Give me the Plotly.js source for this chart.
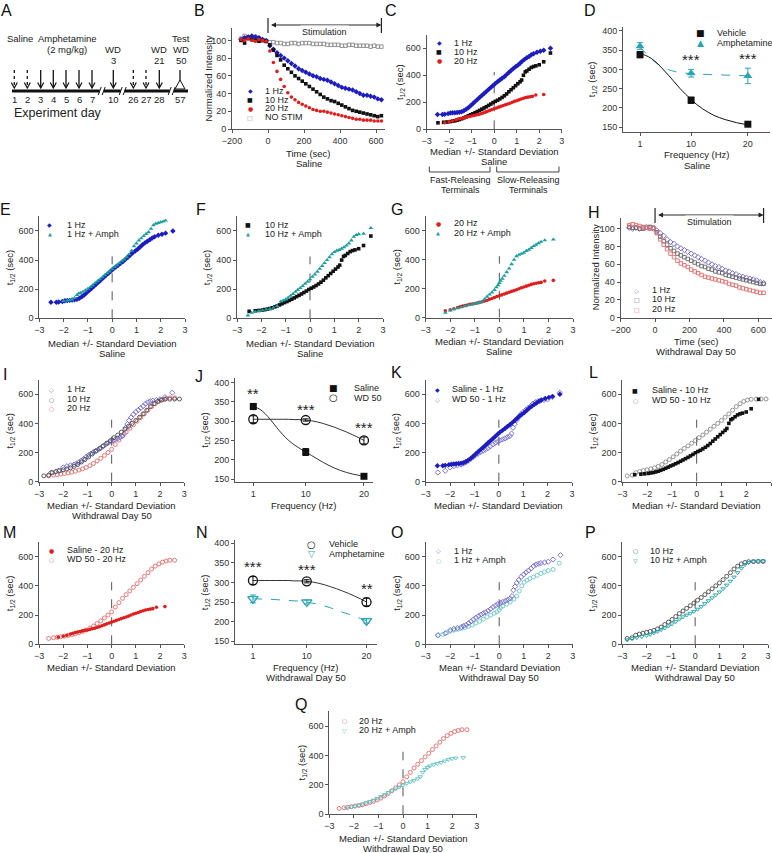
<!DOCTYPE html>
<html><head><meta charset="utf-8">
<script src="https://cdn.plot.ly/plotly-3.0.1.min.js"></script>
<style>html,body{margin:0;padding:0;background:#fff}#chart{width:772px;height:853px}</style>
</head><body><div id="chart"></div>
<script>
// ================= DATA =================
// Panel A schedule
const scheduleDays = ['1','2','3','4','5','6','7','10','26','27','28','57'];
const scheduleTreatment = ['saline','saline','amph','amph','amph','amph','amph','wd','saline','saline','wd','test'];

// Panels B & H: time course (sec) and normalized intensity
const timeSec = [-150,-130,-110,-90,-70,-50,-30,-10,10,30,50,70,90,110,130,150,170,190,210,230,250,270,290,310,330,350,370,390,410,430,450,470,490,510,530,550,570,590,610,630];
const B_1Hz = [101,103,104,105,104,103,101,100,94,90,86,83,80,77,74,71,68,66,64,62,60,59,57,56,55,53,51,49,47,46,45,44,42,40,38,38,37,36,34,33];
const B_10Hz = [100,97,102,101,100,99,100,99,95,89,83,78,72,68,64,60,57,54,51,48,45,42,39,36,34,32,31,29,27,25,23,21,20,19,18,17,16,15,14,15];
const B_20Hz = [101,100,102,100,99,101,100,99,88,75,65,56,48,41,36,33,30,28,26,24,22,21,20,20,19,18,17,16,15,14,13,12,11,11,10,10,10,9,9,9];
const B_noStim = [102,105,103,104,104,102,100,99,98,98,97,97,96,96,97,97,96,97,97,97,96,96,96,96,95,95,95,95,94,94,95,95,94,94,94,94,93,94,93,93];
const H_1Hz = [101,100,101,100,101,102,101,100,98,95,92,88,85,83,80,78,76,74,72,70,68,66,64,62,60,58,57,55,53,52,50,49,47,46,45,44,43,42,40,39];
const H_10Hz = [102,101,101,100,100,101,102,101,96,91,86,82,78,75,72,70,68,66,64,62,60,58,57,55,54,52,51,50,48,47,46,45,44,43,42,41,40,39,38,38];
const H_20Hz = [104,105,104,103,102,101,100,101,95,88,82,77,72,68,64,61,59,57,54,52,50,48,46,45,44,43,42,41,40,38,37,36,34,33,32,31,30,29,28,28];
const stimulationEnd = 630;

// Cumulative t1/2 distributions: x = median +/- SD, y = t1/2 (sec)
const sal1Hz_x = [-2.52,-2.3,-2.2,-2.05,-1.95,-1.85,-1.75,-1.65,-1.55,-1.45,-1.35,-1.25,-1.15,-1.05,-0.95,-0.85,-0.75,-0.65,-0.55,-0.45,-0.35,-0.25,-0.15,-0.05,0.05,0.15,0.25,0.35,0.45,0.55,0.65,0.75,0.85,0.95,1.05,1.15,1.25,1.35,1.45,1.55,1.65,1.75,1.9,2.05,2.2,2.5];
const sal1Hz_y = [110,110,112,116,120,122,123,125,127,130,138,148,160,175,190,205,220,235,250,265,280,295,310,325,340,352,365,378,390,405,420,435,450,463,475,490,505,518,530,540,552,560,570,578,585,600];
const sal10Hz_x = [-2.5,-2.25,-2.1,-1.95,-1.85,-1.75,-1.65,-1.55,-1.45,-1.35,-1.25,-1.15,-1.05,-0.95,-0.85,-0.75,-0.65,-0.55,-0.45,-0.35,-0.25,-0.15,-0.05,0.05,0.15,0.25,0.35,0.45,0.55,0.65,0.75,0.85,0.95,1.05,1.15,1.22,1.3,1.38,1.45,1.55,1.65,1.75,1.85,2.0,2.2,2.5];
const sal10Hz_y = [48,52,54,57,60,63,67,72,78,85,92,100,108,115,123,131,140,149,158,167,177,187,198,207,215,225,236,248,262,278,293,308,323,338,352,365,400,425,432,445,458,465,470,478,500,565];
const sal20Hz_x = [-2.2,-2.0,-1.85,-1.7,-1.6,-1.5,-1.4,-1.3,-1.2,-1.1,-1.0,-0.9,-0.8,-0.7,-0.6,-0.5,-0.4,-0.3,-0.2,-0.1,0,0.1,0.2,0.3,0.4,0.5,0.6,0.7,0.8,0.9,1.0,1.1,1.2,1.3,1.4,1.5,1.6,1.7,1.85,2.2];
const sal20Hz_y = [48,55,62,70,76,80,84,88,92,95,98,102,106,110,115,120,127,133,140,146,152,158,164,170,176,182,187,193,200,207,212,218,224,230,235,238,241,244,254,258];
const salAmph1Hz_x = [-2.0,-1.85,-1.75,-1.65,-1.55,-1.45,-1.38,-1.3,-1.2,-1.1,-1.0,-0.9,-0.8,-0.7,-0.6,-0.5,-0.4,-0.3,-0.2,-0.1,0,0.1,0.2,0.3,0.4,0.5,0.6,0.7,0.8,0.9,1.0,1.1,1.2,1.3,1.4,1.5,1.6,1.7,1.8,1.9,2.0,2.1,2.2];
const salAmph1Hz_y = [120,122,124,128,140,160,170,175,182,192,203,215,228,242,255,268,282,296,310,322,338,352,365,378,392,405,420,440,465,495,515,535,550,565,580,592,615,640,650,655,660,665,672];
const salAmph10Hz_x = [-2.55,-2.4,-2.25,-2.1,-1.95,-1.8,-1.65,-1.5,-1.35,-1.2,-1.1,-1.0,-0.9,-0.8,-0.7,-0.6,-0.5,-0.4,-0.3,-0.2,-0.1,0,0.1,0.2,0.3,0.4,0.5,0.6,0.7,0.8,0.9,1.0,1.1,1.2,1.3,1.4,1.5,1.6,1.7,1.8,1.9,2.0,2.2,2.5];
const salAmph10Hz_y = [20,38,45,50,55,60,65,72,85,115,122,130,142,155,168,182,195,208,222,238,252,268,285,302,320,340,360,380,400,420,440,455,465,470,478,488,500,515,535,560,572,578,582,620];
const salAmph20Hz_x = [-2.2,-2.0,-1.85,-1.7,-1.55,-1.4,-1.25,-1.1,-1.0,-0.9,-0.8,-0.7,-0.6,-0.5,-0.4,-0.3,-0.2,-0.12,-0.05,0,0.05,0.12,0.2,0.3,0.4,0.5,0.6,0.7,0.8,0.9,1.0,1.1,1.2,1.3,1.4,1.5,1.6,1.7,1.85,2.2];
const salAmph20Hz_y = [35,50,58,65,72,80,88,93,97,100,103,112,128,145,160,175,192,210,225,240,255,270,290,315,340,370,400,425,435,442,450,462,470,482,495,505,515,525,535,540];
const wd1Hz_x = [-2.5,-2.2,-2.0,-1.85,-1.7,-1.55,-1.45,-1.35,-1.25,-1.15,-1.05,-0.95,-0.85,-0.75,-0.65,-0.55,-0.45,-0.35,-0.25,-0.15,-0.05,0.05,0.15,0.25,0.35,0.45,0.52,0.58,0.65,0.72,0.8,0.9,1.0,1.1,1.2,1.3,1.4,1.5,1.6,1.7,1.85,2.0,2.2,2.5];
const wd1Hz_y = [63,75,98,106,112,118,125,133,145,157,170,182,193,203,212,220,230,242,255,265,275,282,290,297,305,313,330,370,395,420,440,462,478,492,505,518,535,545,552,556,560,565,580,610];
const wd10Hz_x = [-2.8,-2.6,-2.45,-2.3,-2.15,-2.0,-1.85,-1.7,-1.55,-1.4,-1.25,-1.1,-0.95,-0.8,-0.65,-0.5,-0.35,-0.2,-0.05,0.1,0.25,0.4,0.55,0.7,0.85,1.0,1.15,1.3,1.45,1.6,1.75,1.9,2.05,2.2,2.4,2.6,2.8];
const wd10Hz_y = [40,45,62,70,76,82,88,95,105,118,135,152,170,190,210,228,246,264,282,302,320,340,360,380,400,420,442,465,490,515,535,550,560,565,566,567,567];
const wd20Hz_x = [-2.6,-2.4,-2.25,-2.1,-1.95,-1.8,-1.65,-1.5,-1.35,-1.2,-1.05,-0.9,-0.75,-0.6,-0.45,-0.3,-0.15,0,0.15,0.3,0.45,0.6,0.75,0.9,1.05,1.2,1.35,1.5,1.65,1.8,1.95,2.1,2.25,2.4,2.6];
const wd20Hz_y = [40,45,48,52,56,60,65,72,80,88,98,110,125,142,160,180,200,222,255,285,315,340,365,390,415,440,465,490,515,535,550,562,570,575,575];
const wdAmph1Hz_x = [-2.5,-2.3,-2.15,-2.0,-1.85,-1.7,-1.55,-1.4,-1.25,-1.1,-0.95,-0.8,-0.65,-0.5,-0.35,-0.2,-0.1,0,0.05,0.15,0.3,0.45,0.6,0.72,0.82,0.92,1.02,1.13,1.25,1.4,1.55,1.7,1.85,2.0,2.2,2.45];
const wdAmph1Hz_y = [60,68,78,90,97,102,108,114,122,132,145,158,172,188,200,212,222,234,250,262,275,290,310,330,365,400,425,438,450,460,472,485,495,505,512,555];
const wdAmph10Hz_x = [-2.8,-2.6,-2.4,-2.2,-2.0,-1.85,-1.7,-1.55,-1.4,-1.25,-1.1,-0.95,-0.8,-0.65,-0.5,-0.35,-0.2,-0.05,0.1,0.25,0.4,0.55,0.7,0.85,1.0,1.15,1.3,1.45,1.6,1.75,1.9,2.05,2.2,2.4,2.6,2.8];
const wdAmph10Hz_y = [30,38,45,52,60,68,78,88,100,112,125,140,155,172,188,200,212,225,240,258,278,298,318,338,358,380,405,432,460,490,520,545,560,568,570,570];
const wdAmph20Hz_x = [-2.3,-2.1,-1.95,-1.8,-1.65,-1.5,-1.35,-1.2,-1.05,-0.9,-0.75,-0.6,-0.45,-0.3,-0.15,0,0.15,0.3,0.45,0.6,0.7,0.8,0.9,1.0,1.1,1.25,1.4,1.55,1.7,1.85,2.0,2.15,2.45];
const wdAmph20Hz_y = [42,50,55,62,70,78,86,96,108,120,133,147,160,172,185,198,210,220,230,242,255,285,305,318,328,338,345,352,362,372,378,382,385];
const medianLineTop = 425;

// Panels D, J, N: mean t1/2 by frequency
const freqHz = [1,10,20];
const D_vehicle = [338,220,158], D_vehicleErr = [8,8,4];
const D_amph = [360,290,283], D_amphErr = [9,10,20];
const D_stars = ['','***','***'];
const J_saline = [338,220,157], J_salineErr = [8,9,4];
const J_wd50 = [305,303,250], J_wd50Err = [9,3,9];
const J_stars = ['**','***','***'];
const N_vehicle = [305,303,250], N_vehicleErr = [10,4,10];
const N_amph = [258,250,202], N_amphErr = [10,5,6];
const N_stars = ['***','***','**'];
// fitted curves
const fitFreq = [1,2,3,4,5,6,7,8,9,10,11,12,13,14,15,16,17,18,19,20];
const D_vehicleFit = [340,336,328,316,301,285,268,251,236,222,209,198,189,181,175,170,166,162,159,157];
const D_amphFit = [358,342,327,315,306,299,295,292,290,289,288,287,287,286,286,285,285,284,284,284];
const J_salineFit = [338,332,320,303,284,266,251,239,229,220,211,202,193,185,178,172,167,163,160,157];
const J_wd50Fit = [305,305,305,305,305,305,305,304,304,303,301,298,294,289,284,278,272,265,258,250];
const N_amphFit = [258,258,257,257,256,255,254,253,252,250,247,244,240,235,230,224,219,213,208,202];

// ================= DRAWING =================
const W = 772, H = 853;
const FONT = '"Liberation Sans", Arial, sans-serif';
const AX = '#555';
const fx = p => p / W, fy = p => 1 - p / H;
const C = {blue:'#1c1cc0', black:'#111111', red:'#e11d1d', gray:'#8a8a8a', teal:'#1b9e9e',
  wd1:'#6f66cc', wd10:'#4a4a4a', wd20:'#e56b6b', wdA1:'#6cc7c7', wdA10:'#1aa0a8', wdA20:'#5cc2c2', ampD:'#2aa3b2'};

const traces = [];
const L = {width:W, height:H, margin:{l:0,r:0,t:0,b:0,pad:0}, paper_bgcolor:'#fff', plot_bgcolor:'rgba(0,0,0,0)',
  showlegend:false, font:{family:FONT,size:9,color:'#222'}, annotations:[], shapes:[]};

let nAx = 0;
function makePanel(b, xr, yr, xticks, yticks) {
  nAx++;
  const s = nAx === 1 ? '' : String(nAx);
  const common = {showline:true, linecolor:AX, linewidth:1, ticks:'outside', ticklen:3, tickwidth:1, tickcolor:AX,
    showgrid:false, zeroline:false, fixedrange:true, tickfont:{family:FONT,size:9,color:'#333'}, tickmode:'array'};
  L['xaxis'+s] = Object.assign({}, common, {domain:[fx(b[0]),fx(b[1])], range:xr, anchor:'y'+s, tickvals:xticks});
  L['yaxis'+s] = Object.assign({}, common, {domain:[fy(b[3]),fy(b[2])], range:yr, anchor:'x'+s, tickvals:yticks});
  return {xa:'x'+s, ya:'y'+s, b};
}
function sc(p, x, y, sym, color, size, extra) {
  const open = sym.indexOf('open') >= 0;
  traces.push(Object.assign({type:'scatter', mode:'markers', x, y, xaxis:p.xa, yaxis:p.ya, cliponaxis:false, hoverinfo:'skip',
    marker:{symbol:sym, color, size, line:{width:open?0.9:0, color}}}, extra || {}));
}
function txt(x, y, t, o) {
  L.annotations.push(Object.assign({xref:'paper', yref:'paper', x:fx(x), y:fy(y), text:t, showarrow:false,
    xanchor:'center', yanchor:'middle', font:{family:FONT,size:9,color:'#222'}}, o || {}));
}
function shp(o) { L.shapes.push(Object.assign({xref:'paper', yref:'paper', layer:'above'}, o)); }
function pline(x0,y0,x1,y1,line) { shp({type:'line', x0:fx(x0), y0:fy(y0), x1:fx(x1), y1:fy(y1), line}); }
function ppath(pts, line, fill) {
  const d = pts.map((q,i)=>(i?'L':'M')+fx(q[0]).toFixed(5)+','+fy(q[1]).toFixed(5)).join(' ') + (fill ? ' Z' : '');
  shp({type:'path', path:d, line, fillcolor: fill || 'rgba(0,0,0,0)'});
}
function letter(ch, x, y) { txt(x, y, ch, {font:{family:FONT,size:16,color:'#111'}}); }
function xTitle(p, lines, y) {
  lines.forEach((t, i) => txt((p.b[0]+p.b[1])/2, y + i*10, t, {font:{family:FONT,size:9.5,color:'#222'}}));
}
function yTitle(p, t, x) { txt(x, (p.b[2]+p.b[3])/2, t, {textangle:-90, font:{family:FONT,size:9.5,color:'#222'}}); }
function legend(sx, tx, ys, items) {
  items.forEach((it, i) => {
    txt(sx, ys[i], it[1], {font:{family:'DejaVu Sans',size:it[3]||6,color:it[2]}});
    txt(tx, ys[i], it[0], {xanchor:'left', font:{family:FONT,size:9,color:'#222'}});
  });
}
function medianLine(p) {
  L.shapes.push({type:'line', xref:p.xa, yref:p.ya, x0:0, x1:0, y0:0, y1:medianLineTop, line:{color:'#555', width:1, dash:'dash'}, layer:'below'});
}
function stars(p, labels, tops) {
  labels.forEach((s, i) => { if (!s) return;
    L.annotations.push({xref:p.xa, yref:p.ya, x:freqHz[i], y:tops[i] + 25, text:s, showarrow:false, yanchor:'middle',
      font:{family:FONT,size:15,color:'#222'}}); });
}
function stim(p, y, yb0, yb1) {
  L.annotations.push({xref:p.xa, yref:'paper', x:stimulationEnd, y:fy(y), axref:p.xa, ayref:'pixel', ax:0, ay:0,
    showarrow:true, arrowhead:2, arrowside:'end+start', arrowsize:1, arrowwidth:1, arrowcolor:'#222', text:' '});
  [0, stimulationEnd].forEach(v => L.shapes.push({type:'line', xref:p.xa, yref:'paper', x0:v, x1:v, y0:fy(yb0), y1:fy(yb1), line:{color:'#222', width:1.2}}));
  L.annotations.push({xref:p.xa, yref:'paper', x:stimulationEnd/2, y:fy(y), text:'Stimulation', showarrow:false,
    bgcolor:'#fff', borderpad:1, font:{family:FONT,size:9,color:'#222'}});
}
const T = 't<sub>1/2</sub> (sec)';
const cdfX = [-3,-2,-1,0,1,2,3], cdfY = [0,200,400,600];
const tX = [-200,0,200,400,600], tY = [0,20,40,60,80,100];
const fY = [150,200,250,300,350,400];
const FS = 3.6, FD = 4.2, OS = 4;   // marker sizes: filled, filled diamond, open

// ---------- Panel A (schedule) ----------
letter('A', 7, 10);
const aX = [14.3,27.3,40.7,53.3,66,79,92,113.3,133.3,146,159.3,180];
pline(12, 91, 188, 91, {color:'#111', width:3});
[101.7, 122.7, 171.7].forEach(x => {
  shp({type:'rect', x0:fx(x-2), x1:fx(x+2), y0:fy(95), y1:fy(87), line:{width:0}, fillcolor:'#fff'});
  pline(x-3.5, 95, x-0.5, 87, {color:'#111', width:1});
  pline(x+0.5, 95, x+3.5, 87, {color:'#111', width:1});
});
scheduleDays.forEach((d, i) => {
  const x = aX[i], kind = scheduleTreatment[i];
  if (kind === 'test') {
    pline(x, 70, x, 81, {color:'#111', width:1.3});
    ppath([[x,80],[x-5,89],[x+5,89]], {color:'#111', width:1}, '#fff');
  } else {
    pline(x, 70, x, 87.5, {color:'#111', width:1.3, dash: kind === 'saline' ? 'dot' : 'solid'});
    ppath([[x-3,82.5],[x,88],[x+3,82.5]], {color:'#111', width:1.2});
  }
  txt(x, 99.5, d, {font:{family:FONT,size:9.5,color:'#222'}});
});
const aF = {font:{family:FONT,size:9.5,color:'#222'}};
txt(20, 38, 'Saline', aF);
txt(67, 38, 'Amphetamine', aF);
txt(67, 50, '(2 mg/kg)', aF);
txt(113.3, 50, 'WD', aF); txt(113.3, 61, '3', aF);
txt(159.3, 50, 'WD', aF); txt(159.3, 61, '21', aF);
txt(181, 38, 'Test', aF); txt(181, 50, 'WD', aF); txt(181, 61, '50', aF);
txt(12, 113, 'Experiment day', {xanchor:'left', font:{family:FONT,size:12.5,color:'#222'}});

// ---------- Panel B ----------
const pB = makePanel([232,385,28,129], [-200,650], [0,114], tX, tY);
sc(pB, timeSec, B_noStim, 'square-open', C.gray, 3.5);
sc(pB, timeSec, B_1Hz, 'diamond', C.blue, FD);
sc(pB, timeSec, B_10Hz, 'square', C.black, FS);
sc(pB, timeSec, B_20Hz, 'circle', C.red, FS);
stim(pB, 25, 18, 33);
letter('B', 200, 10);
xTitle(pB, ['Time (sec)','Saline'], 153.3);
yTitle(pB, 'Normalized Intensity', 208);
legend(250, 263, [90.7,99.5,108.3,117.3], [['1 Hz','◆',C.blue],['10 Hz','■',C.black],['20 Hz','●',C.red],['NO STIM','□',C.gray]]);

// ---------- Panel C ----------
const pC = makePanel([426.7,561.7,34.8,129.3], [-3,3], [0,700], cdfX, cdfY);
medianLine(pC);
sc(pC, sal1Hz_x, sal1Hz_y, 'diamond', C.blue, FD);
sc(pC, sal10Hz_x, sal10Hz_y, 'square', C.black, FS);
sc(pC, sal20Hz_x, sal20Hz_y, 'circle', C.red, FS);
letter('C', 391, 10);
xTitle(pC, ['Median +/- Standard Deviation','Saline'], 151.5);
yTitle(pC, T, 400);
legend(439, 452, [42.7,51.7,60.7], [['1 Hz','◆',C.blue],['10 Hz','■',C.black],['20 Hz','●',C.red]]);
ppath([[429.3,166.5],[429.3,172],[490,172],[490,166.5]], {color:'#444', width:1});
ppath([[496.7,166.5],[496.7,172],[559,172],[559,166.5]], {color:'#444', width:1});
txt(460, 180, 'Fast-Releasing'); txt(460, 189.5, 'Terminals');
txt(528, 180, 'Slow-Releasing'); txt(528, 189.5, 'Terminals');

// ---------- Panel D ----------
const pD = makePanel([623,770,26.7,131.7], [-2,23.9], [138.6,410.4], freqHz, fY);
traces.push({type:'scatter', mode:'lines', x:fitFreq, y:D_amphFit, xaxis:pD.xa, yaxis:pD.ya, line:{color:C.ampD, width:1, dash:'dash', shape:'spline'}, hoverinfo:'skip'});
traces.push({type:'scatter', mode:'lines', x:fitFreq, y:D_vehicleFit, xaxis:pD.xa, yaxis:pD.ya, line:{color:C.black, width:1, shape:'spline'}, hoverinfo:'skip'});
sc(pD, freqHz, D_vehicle, 'square', C.black, 7, {error_y:{type:'data', array:D_vehicleErr, color:C.black, thickness:1, width:3}});
sc(pD, freqHz, D_amph, 'triangle-up', C.ampD, 8, {error_y:{type:'data', array:D_amphErr, color:C.ampD, thickness:1, width:3}});
stars(pD, D_stars, freqHz.map((f,i)=>Math.max(D_vehicle[i]+D_vehicleErr[i], D_amph[i]+D_amphErr[i])));
letter('D', 590, 10);
xTitle(pD, ['Frequency (Hz)','Saline'], 155);
yTitle(pD, T, 592);
legend(700, 715, [33.3,42.7], [['Vehicle','■',C.black,9],['Amphetamine','▲',C.ampD,9]]);

// ---------- Row 2: E, F, G, H ----------
const pE = makePanel([39.3,185,216.4,318.3], [-3,3], [0,700], cdfX, cdfY);
medianLine(pE);
sc(pE, sal1Hz_x, sal1Hz_y, 'diamond', C.blue, FD);
sc(pE, salAmph1Hz_x, salAmph1Hz_y, 'triangle-up', C.teal, FD);
letter('E', 5, 210);
xTitle(pE, ['Median +/- Standard Deviation','Saline'], 343);
yTitle(pE, T, 10);
legend(50, 65, [225,234.3], [['1 Hz','◆',C.blue],['1 Hz + Amph','▲',C.teal,5]]);

const pF = makePanel([237,383,216.4,318.3], [-3,3], [0,700], cdfX, cdfY);
medianLine(pF);
sc(pF, sal10Hz_x, sal10Hz_y, 'square', C.black, FS);
sc(pF, salAmph10Hz_x, salAmph10Hz_y, 'triangle-up', C.teal, FD);
letter('F', 201, 210);
xTitle(pF, ['Median +/- Standard Deviation','Saline'], 343);
yTitle(pF, T, 207);
legend(248.3, 263.3, [225,234.3], [['10 Hz','■',C.black],['10 Hz + Amph','▲',C.teal,5]]);

const pG = makePanel([425.7,573,216.4,317.7], [-3,3], [0,700], cdfX, cdfY);
medianLine(pG);
sc(pG, sal20Hz_x, sal20Hz_y, 'circle', C.red, FS);
sc(pG, salAmph20Hz_x, salAmph20Hz_y, 'triangle-up', C.teal, FD);
letter('G', 396.7, 210);
xTitle(pG, ['Median +/- Standard Deviation','Saline'], 341.7);
yTitle(pG, T, 396.7);
legend(438.3, 451.7, [223.3,232.7], [['20 Hz','●',C.red],['20 Hz + Amph','▲',C.teal,5]]);

const pH = makePanel([620.6,772,218,317.7], [-200,679], [0,112], tX, tY);
sc(pH, timeSec, H_1Hz, 'diamond-open', C.wd1, OS);
sc(pH, timeSec, H_10Hz, 'square-open', '#666', 3.5);
sc(pH, timeSec, H_20Hz, 'square-open', C.wd20, 3.5);
stim(pH, 215, 208, 223);
letter('H', 593.7, 212);
xTitle(pH, ['Time (sec)','Withdrawal Day 50'], 341.7);
yTitle(pH, 'Normalized Intensity', 595.5);
legend(636.7, 650, [290,299.3,309], [['1 Hz','◇',C.wd1],['10 Hz','□','#666'],['20 Hz','□',C.wd20]]);

// ---------- Row 3: I, J, K, L ----------
const pI = makePanel([39,184.3,379.6,481.7], [-3,3], [0,700], cdfX, cdfY);
medianLine(pI);
sc(pI, wd20Hz_x, wd20Hz_y, 'circle-open', C.wd20, OS);
sc(pI, wd1Hz_x, wd1Hz_y, 'diamond-open', C.wd1, OS);
sc(pI, wd10Hz_x, wd10Hz_y, 'circle-open', C.wd10, OS);
letter('I', 5, 374);
xTitle(pI, ['Median +/- Standard Deviation','Withdrawal Day 50'], 505);
yTitle(pI, T, 10);
legend(51.7, 65, [389,399,408.3], [['1 Hz','◇',C.wd1],['10 Hz','○',C.wd10],['20 Hz','○',C.wd20]]);

const pJ = makePanel([235,372.7,378,481.7], [-2.14,21.5], [143,412], freqHz, fY);
traces.push({type:'scatter', mode:'lines', x:fitFreq, y:J_salineFit, xaxis:pJ.xa, yaxis:pJ.ya, line:{color:'#333', width:1, shape:'spline'}, hoverinfo:'skip'});
traces.push({type:'scatter', mode:'lines', x:fitFreq, y:J_wd50Fit, xaxis:pJ.xa, yaxis:pJ.ya, line:{color:'#333', width:1, shape:'spline'}, hoverinfo:'skip'});
sc(pJ, freqHz, J_saline, 'square', C.black, 7, {error_y:{type:'data', array:J_salineErr, color:C.black, thickness:1, width:3}});
sc(pJ, freqHz, J_wd50, 'circle-open', C.black, 9, {marker:{symbol:'circle-open', color:C.black, size:9, line:{width:1.3, color:C.black}}, error_y:{type:'data', array:J_wd50Err, color:C.black, thickness:1, width:3}});
stars(pJ, J_stars, freqHz.map((f,i)=>Math.max(J_saline[i]+J_salineErr[i], J_wd50[i]+J_wd50Err[i])));
letter('J', 199, 376);
xTitle(pJ, ['Frequency (Hz)'], 505);
yTitle(pJ, T, 205);
legend(333.3, 351.7, [388.3,397.7], [['Saline','■',C.black,9],['WD 50','○',C.black,10]]);

const pK = makePanel([425.7,572,379.6,481.7], [-3,3], [0,700], cdfX, cdfY);
medianLine(pK);
sc(pK, wd1Hz_x, wd1Hz_y, 'diamond-open', C.wd1, OS);
sc(pK, sal1Hz_x, sal1Hz_y, 'diamond', C.blue, FD);
letter('K', 396.7, 372);
xTitle(pK, ['Median +/- Standard Deviation'], 505);
yTitle(pK, T, 396);
legend(437.7, 450, [389,399.3], [['Saline - 1 Hz','◆',C.blue],['WD 50 - 1 Hz','◇',C.wd1]]);

const pL = makePanel([622.3,771,379.6,481.7], [-3,3], [0,700], cdfX, cdfY);
medianLine(pL);
sc(pL, wd10Hz_x, wd10Hz_y, 'circle-open', C.gray, OS);
sc(pL, sal10Hz_x, sal10Hz_y, 'square', C.black, FS);
letter('L', 593, 372);
xTitle(pL, ['Median +/- Standard Deviation'], 505);
yTitle(pL, T, 592.3);
legend(635, 650, [390,400], [['Saline - 10 Hz','■',C.black],['WD 50 - 10 Hz','○',C.gray]]);

// ---------- Row 4: M, N, O, P ----------
const pM = makePanel([39,184.3,542,644.3], [-3,3], [0,700], cdfX, cdfY);
medianLine(pM);
sc(pM, wd20Hz_x, wd20Hz_y, 'circle-open', C.wd20, OS);
sc(pM, sal20Hz_x, sal20Hz_y, 'circle', C.red, FS);
letter('M', 9.7, 532);
xTitle(pM, ['Median +/- Standard Deviation'], 667.7);
yTitle(pM, T, 10);
legend(51.7, 65, [550,559.3], [['Saline - 20 Hz','●',C.red],['WD 50 - 20 Hz','○',C.wd20]]);

const pN = makePanel([235,376.7,540,644.3], [-2.0,21.7], [142,408.5], freqHz, fY);
traces.push({type:'scatter', mode:'lines', x:fitFreq, y:J_wd50Fit, xaxis:pN.xa, yaxis:pN.ya, line:{color:'#333', width:1, shape:'spline'}, hoverinfo:'skip'});
traces.push({type:'scatter', mode:'lines', x:fitFreq, y:N_amphFit, xaxis:pN.xa, yaxis:pN.ya, line:{color:C.ampD, width:1, dash:'dash', shape:'spline'}, hoverinfo:'skip'});
sc(pN, freqHz, N_vehicle, 'circle-open', C.black, 9, {marker:{symbol:'circle-open', color:C.black, size:9, line:{width:1.3, color:C.black}}, error_y:{type:'data', array:N_vehicleErr, color:C.black, thickness:1, width:3}});
sc(pN, freqHz, N_amph, 'triangle-down-open', C.ampD, 9, {marker:{symbol:'triangle-down-open', color:C.ampD, size:9, line:{width:1.3, color:C.ampD}}, error_y:{type:'data', array:N_amphErr, color:C.ampD, thickness:1, width:3}});
stars(pN, N_stars, freqHz.map((f,i)=>Math.max(N_vehicle[i]+N_vehicleErr[i], N_amph[i]+N_amphErr[i])));
letter('N', 202, 532);
xTitle(pN, ['Frequency (Hz)','Withdrawal Day 50'], 667.7);
yTitle(pN, T, 205);
legend(311.7, 326.7, [544.3,554], [['Vehicle','○',C.black,10],['Amphetamine','▽',C.ampD,9]]);

const pO = makePanel([425.7,572.7,542,644.3], [-3,3], [0,700], cdfX, cdfY);
medianLine(pO);
sc(pO, wdAmph1Hz_x, wdAmph1Hz_y, 'circle-open', C.wdA1, OS);
sc(pO, wd1Hz_x, wd1Hz_y, 'diamond-open', C.wd1, OS);
letter('O', 396.7, 532.5);
xTitle(pO, ['Mean +/- Standard Deviation','Withdrawal Day 50'], 667.7);
yTitle(pO, T, 396.7);
legend(438.3, 451.7, [550.7,560], [['1 Hz','◇',C.wd1],['1 Hz + Amph','○',C.wdA1]]);

const pP = makePanel([622.3,768,542,644.3], [-3,3], [0,700], cdfX, cdfY);
medianLine(pP);
sc(pP, wd10Hz_x, wd10Hz_y, 'circle-open', C.wd10, OS);
sc(pP, wdAmph10Hz_x, wdAmph10Hz_y, 'triangle-down-open', C.wdA10, OS);
letter('P', 590, 532.5);
xTitle(pP, ['Median +/- Standard Deviation','Withdrawal Day 50'], 667.7);
yTitle(pP, T, 592.3);
legend(635, 648.3, [550.7,560], [['10 Hz','○',C.wd10],['10 Hz + Amph','▽',C.wdA10]]);

// ---------- Panel Q ----------
const pQ = makePanel([329.3,476.7,711.3,814.3], [-3,3], [0,700], cdfX, cdfY);
medianLine(pQ);
sc(pQ, wd20Hz_x, wd20Hz_y, 'circle-open', C.wd20, OS);
sc(pQ, wdAmph20Hz_x, wdAmph20Hz_y, 'triangle-down-open', C.wdA20, OS);
letter('Q', 301, 704);
xTitle(pQ, ['Median +/- Standard Deviation','Withdrawal Day 50'], 838);
yTitle(pQ, T, 301.7);
legend(344, 357.3, [720.7,730], [['20 Hz','○',C.wd20],['20 Hz + Amph','▽',C.wdA20]]);

Plotly.newPlot('chart', traces, L, {staticPlot:true, displayModeBar:false});
</script></body></html>
